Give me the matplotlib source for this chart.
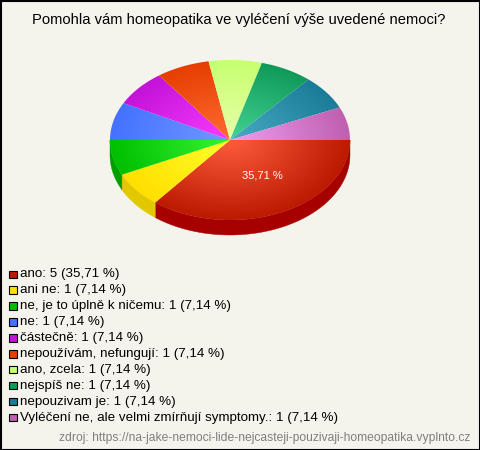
"""Anketa o homeopatii: 3D kolac s legendou pod nim."""

import matplotlib
matplotlib.use("Agg")
import matplotlib.pyplot as plt
import numpy as np
from matplotlib.colors import to_rgb
from matplotlib.patches import Polygon, Rectangle

plt.rcParams["font.family"] = ["Liberation Sans", "DejaVu Sans"]

TITULEK = "Pomohla vám homeopatika ve vyléčení výše uvedené nemoci?"
ZDROJ = "zdroj: https://na-jake-nemoci-lide-nejcasteji-pouzivaji-homeopatika.vyplnto.cz"

KATEGORIE = [
    "ano",
    "ani ne",
    "ne, je to úplně k ničemu",
    "ne",
    "částečně",
    "nepoužívám, nefungují",
    "ano, zcela",
    "nejspíš ne",
    "nepouzivam je",
    "Vyléčení ne, ale velmi zmírňují symptomy.",
]
POCTY = [5, 1, 1, 1, 1, 1, 1, 1, 1, 1]

# barva u stredu, barva na okraji, bocni stena
SVETLE = ["#ff5c3e", "#ffff2a", "#34f534", "#7198ff", "#f83cff",
          "#ff6c34", "#e9ffa8", "#44d394", "#4aaac4", "#f09cf0"]
TMAVE = ["#bc1a00", "#ffdf00", "#00bf00", "#4472ff", "#c412d8",
         "#e63e00", "#c6ff70", "#0f9a5a", "#1a7c98", "#bf60b0"]
BOKY = ["#a60000", "#e2c800", "#009f00", "#3058c0", "#9000a0",
        "#b03000", "#a0c050", "#0a7040", "#105c70", "#904888"]

CX, CY = 230, 140
RX, RY = 120, 80
HLOUBKA = 15
POZADI = "#f5f4ec"


def zadni_posun(t):
    # zadni polovina kolace je v originale mirne pootocena
    if t <= np.pi or t >= 2 * np.pi:
        return t
    return t + np.radians(2.6) * np.sqrt(abs(np.sin(t)))


def body_vysece(t0, t1):
    t = np.linspace(t0, t1, 60)
    return np.column_stack([CX + RX * np.cos(t), CY + RY * np.sin(t)])


def gradient(svetla, tmava):
    yy, xx = np.mgrid[CY - RY:CY + RY:320j, CX - RX:CX + RX:480j]
    r = np.clip(np.hypot((xx - CX) / RX, (yy - CY) / RY), 0, 1)[..., None]
    return (1 - r) * np.array(to_rgb(svetla)) + r * np.array(to_rgb(tmava))


fig = plt.figure(figsize=(4.8, 4.5), dpi=100, facecolor=POZADI)
ax = fig.add_axes([0, 0, 1, 1])
ax.set_xlim(0, 480)
ax.set_ylim(450, 0)
ax.axis("off")

ax.add_patch(Rectangle((0.5, 0.5), 479, 449, facecolor=POZADI,
                       edgecolor="black", linewidth=1.5, zorder=0))
ax.text(239, 20, TITULEK, fontsize=10.65, ha="center", va="center", color="black")

hrany = np.cumsum([0] + POCTY) / sum(POCTY) * 2 * np.pi
for i in range(len(POCTY)):
    t0, t1 = zadni_posun(hrany[i]), zadni_posun(hrany[i + 1])

    # bocni stena jen v predni polovine
    if t0 < np.pi:
        oblouk = body_vysece(t0, min(t1, np.pi))
        stena = np.vstack([oblouk, (oblouk + [0, HLOUBKA])[::-1]])
        ax.add_patch(Polygon(stena, closed=True, facecolor=BOKY[i],
                             edgecolor=BOKY[i], linewidth=0.3, zorder=1))

    vysec = Polygon(np.vstack([[CX, CY], body_vysece(t0, t1)]), closed=True,
                    facecolor="none", edgecolor="none", zorder=2)
    ax.add_patch(vysec)
    obr = ax.imshow(gradient(SVETLE[i], TMAVE[i]), interpolation="bilinear",
                    extent=(CX - RX, CX + RX, CY + RY, CY - RY), aspect="auto",
                    zorder=2)
    obr.set_clip_path(vysec)

ax.set_xlim(0, 480)
ax.set_ylim(450, 0)

podil = POCTY[0] / sum(POCTY) * 100
ax.text(262, 176, f"{podil:.2f} %".replace(".", ","), fontsize=8, color="white",
        ha="center", va="center", zorder=3)

for i, (nazev, pocet) in enumerate(zip(KATEGORIE, POCTY)):
    y = 274.5 + i * 15.9
    ax.add_patch(Rectangle((9, y - 4), 7.5, 7.5, facecolor=TMAVE[i],
                           edgecolor="black", linewidth=0.8, zorder=3))
    pct = f"{pocet / sum(POCTY) * 100:.2f}".replace(".", ",")
    ax.text(20, y, f"{nazev}: {pocet} ({pct} %)", fontsize=9.6, color="black",
            ha="left", va="center", zorder=3)

ax.text(470, 438.5, ZDROJ, fontsize=8.7, color="#808080", ha="right", va="center",
        zorder=3)

fig.savefig("out.png", dpi=100, facecolor=POZADI)
